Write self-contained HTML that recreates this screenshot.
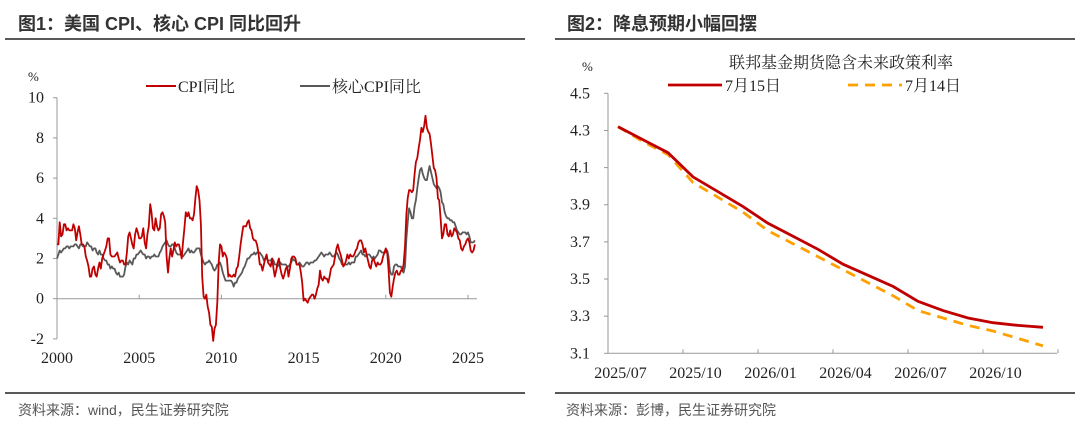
<!DOCTYPE html>
<html><head><meta charset="utf-8">
<style>
body{margin:0;width:1080px;height:426px;background:#fff;overflow:hidden;font-family:"Liberation Sans","Noto Sans CJK SC",sans-serif;}
.t{position:absolute;font-weight:bold;font-size:18px;color:#333;top:10px;}
.src{position:absolute;font-size:14px;color:#555;top:400px;}
.hr{position:absolute;height:2px;background:#595959;}
svg text{font-family:"Liberation Serif","Noto Serif CJK SC",serif;fill:#222;}
</style></head><body>
<div class="t" style="left:18px">图1：美国 CPI、核心 CPI 同比回升</div>
<div class="t" style="left:567px">图2：降息预期小幅回摆</div>
<div class="hr" style="left:5px;top:38px;width:520px"></div>
<div class="hr" style="left:555px;top:38px;width:520px"></div>
<div class="hr" style="left:5px;top:392px;width:520px"></div>
<div class="hr" style="left:555px;top:392px;width:520px"></div>
<div class="src" style="left:18px">资料来源：wind，民生证券研究院</div>
<div class="src" style="left:566px">资料来源：彭博，民生证券研究院</div>
<svg id="c" width="1080" height="426" style="position:absolute;left:0;top:0"></svg>
<script>
const cpiStartYear = 2000;
const cpi = [2.7,2.7,3.8,3.1,3.2,3.7,3.7,3.4,3.5,3.4,3.4,3.4,
3.7,3.5,2.9,3.3,3.6,3.2,2.7,2.7,2.6,2.1,1.9,1.6,
1.1,1.1,1.5,1.6,1.2,1.1,1.5,1.8,1.5,2.0,2.2,2.4,
2.6,3.0,3.0,2.2,2.1,2.1,2.1,2.2,2.3,2.0,1.8,1.9,
1.9,1.7,1.7,2.3,3.1,3.3,3.0,2.7,2.5,3.2,3.5,3.3,
3.0,3.0,3.1,3.5,2.8,2.5,3.2,3.6,4.7,4.3,3.5,3.4,
4.0,3.6,3.4,3.5,4.2,4.3,4.1,3.8,2.1,1.3,2.0,2.5,
2.1,2.4,2.8,2.6,2.7,2.7,2.4,2.0,2.8,3.5,4.3,4.1,
4.3,4.0,4.0,3.9,4.2,5.0,5.6,5.4,4.9,3.7,1.1,0.1,
0.0,0.2,-0.4,-0.7,-1.3,-1.4,-2.1,-1.5,-1.3,-0.2,1.8,2.7,
2.6,2.1,2.3,2.2,2.0,1.1,1.2,1.1,1.1,1.2,1.1,1.5,
1.6,2.1,2.7,3.2,3.6,3.6,3.6,3.8,3.9,3.5,3.4,3.0,
2.9,2.9,2.7,2.3,1.7,1.7,1.4,1.7,2.0,2.2,1.8,1.7,
1.6,2.0,1.5,1.1,1.4,1.8,2.0,1.5,1.2,1.0,1.2,1.5,
1.6,1.1,1.5,2.0,2.1,2.1,2.0,1.7,1.7,1.7,1.3,0.8,
-0.1,0.0,-0.1,-0.2,0.0,0.1,0.2,0.2,0.0,0.2,0.5,0.7,
1.4,1.0,0.9,1.1,1.0,1.0,0.8,1.1,1.5,1.6,1.7,2.1,
2.5,2.7,2.4,2.2,1.9,1.6,1.7,1.9,2.2,2.0,2.2,2.1,
2.1,2.2,2.4,2.5,2.8,2.9,2.9,2.7,2.3,2.5,2.2,1.9,
1.6,1.5,1.9,2.0,1.8,1.6,1.8,1.7,1.7,1.8,2.1,2.3,
2.5,2.3,1.5,0.3,0.1,0.6,1.0,1.3,1.4,1.2,1.2,1.4,
1.4,1.7,2.6,4.2,5.0,5.4,5.4,5.3,5.4,6.2,6.8,7.0,
7.5,7.9,8.5,8.3,8.6,9.1,8.5,8.3,8.2,7.7,7.1,6.5,
6.4,6.0,5.0,4.9,4.0,3.0,3.2,3.7,3.7,3.2,3.1,3.4,
3.1,3.2,3.5,3.4,3.3,3.0,2.9,2.5,2.4,2.6,2.7,2.9,
3.0,2.8,2.4,2.3,2.4,2.7];
const core = [2.0,2.2,2.4,2.3,2.4,2.5,2.5,2.6,2.6,2.5,2.6,2.6,
2.6,2.7,2.7,2.6,2.5,2.7,2.7,2.6,2.6,2.6,2.8,2.7,
2.6,2.6,2.4,2.5,2.5,2.3,2.2,2.4,2.2,2.2,2.0,1.9,
1.9,1.7,1.7,1.5,1.6,1.5,1.5,1.3,1.2,1.3,1.1,1.1,
1.1,1.2,1.6,1.8,1.7,1.9,1.8,1.7,2.0,2.0,2.2,2.2,
2.3,2.4,2.3,2.2,2.2,2.0,2.1,2.1,2.0,2.1,2.1,2.2,
2.1,2.1,2.1,2.3,2.4,2.6,2.7,2.8,2.9,2.7,2.6,2.6,
2.7,2.7,2.5,2.3,2.2,2.2,2.2,2.1,2.1,2.2,2.3,2.4,
2.5,2.3,2.4,2.3,2.3,2.4,2.5,2.5,2.5,2.2,2.0,1.8,
1.7,1.8,1.8,1.9,1.8,1.7,1.5,1.4,1.5,1.7,1.7,1.8,
1.6,1.3,1.1,0.9,0.9,0.9,0.9,0.9,0.8,0.6,0.8,0.8,
1.0,1.1,1.2,1.3,1.5,1.6,1.8,2.0,2.0,2.1,2.2,2.2,
2.3,2.2,2.3,2.3,2.3,2.2,2.1,1.9,2.0,2.0,1.9,1.9,
1.9,2.0,1.9,1.7,1.7,1.6,1.7,1.8,1.7,1.7,1.7,1.7,
1.6,1.6,1.7,1.8,2.0,1.9,1.9,1.7,1.7,1.8,1.7,1.6,
1.6,1.7,1.8,1.8,1.7,1.8,1.8,1.8,1.9,1.9,2.0,2.1,
2.2,2.3,2.2,2.1,2.2,2.2,2.2,2.3,2.2,2.1,2.1,2.2,
2.3,2.2,2.0,1.9,1.7,1.7,1.7,1.7,1.7,1.8,1.7,1.8,
1.8,1.8,2.1,2.1,2.2,2.3,2.4,2.2,2.2,2.1,2.2,2.2,
2.2,2.1,2.0,2.1,2.0,2.1,2.2,2.4,2.4,2.3,2.3,2.3,
2.3,2.4,2.1,1.4,1.2,1.2,1.6,1.7,1.7,1.6,1.6,1.6,
1.4,1.3,1.6,3.0,3.8,4.5,4.3,4.0,4.0,4.6,4.9,5.5,
6.0,6.4,6.5,6.2,6.0,5.9,5.9,6.3,6.6,6.3,6.0,5.7,
5.6,5.5,5.6,5.5,5.3,4.8,4.7,4.3,4.1,4.0,4.0,3.9,
3.9,3.8,3.8,3.6,3.4,3.3,3.2,3.2,3.3,3.3,3.3,3.2,
3.3,3.1,2.8,2.8,2.8,2.9];
const yTicks1 = [-2,0,2,4,6,8,10];
const xTicks1 = [2000,2005,2010,2015,2020,2025];

const months2 = ["2025/07","2025/08","2025/09","2025/10","2025/11","2025/12","2026/01","2026/02","2026/03","2026/04","2026/05","2026/06","2026/07","2026/08","2026/09","2026/10","2026/11","2026/12"];
const jul15 = [4.32,4.25,4.18,4.05,3.97,3.89,3.80,3.73,3.66,3.58,3.52,3.46,3.38,3.33,3.29,3.265,3.25,3.24];
const jul14 = [4.32,4.24,4.17,4.02,3.94,3.86,3.76,3.69,3.62,3.55,3.48,3.41,3.33,3.29,3.25,3.22,3.18,3.14];
const yTicks2 = [3.1,3.3,3.5,3.7,3.9,4.1,4.3,4.5];
const xLabels2 = ["2025/07","2025/10","2026/01","2026/04","2026/07","2026/10"];

const svg = document.getElementById('c');
const NS = 'http://www.w3.org/2000/svg';
function mk(tag, attrs, parent){const e=document.createElementNS(NS,tag);for(const k in attrs)e.setAttribute(k,attrs[k]);(parent||svg).appendChild(e);return e;}
function txt(x,y,s,anchor,size){const e=mk('text',{x:x,y:y,'text-anchor':anchor||'start','font-size':size||16});e.textContent=s;return e;}

// ---- chart 1
const X1 = t => 57 + (t-2000)*16.44;
const Y1 = v => 298.7 - v*20.1;
let e;
e = mk('line',{x1:57,y1:Y1(10),x2:57,y2:Y1(-2),stroke:'#999','stroke-width':1});


e = mk('line',{x1:57,y1:Y1(0),x2:477,y2:Y1(0),stroke:'#999','stroke-width':1});


yTicks1.forEach(v=>{
  mk('line',{x1:53,y1:Y1(v),x2:57,y2:Y1(v),stroke:'#999'});
  e = txt(44,Y1(v)+5,String(v),'end');
  
  
});
xTicks1.forEach(t=>{
  mk('line',{x1:X1(t),y1:Y1(0),x2:X1(t),y2:Y1(0)-4,stroke:'#999'});
  e = txt(X1(t),363,String(t),'middle');
  
  
});
e = txt(28,81,'%','start',13);


function series1(arr,color,name){
  const d = arr.map((v,i)=>(i?'L':'M')+X1(cpiStartYear+i/12).toFixed(1)+','+Y1(v).toFixed(1)).join('');
  const p = mk('path',{d:d,fill:'none',stroke:color,'stroke-width':1.8,'stroke-linejoin':'round'});
  
  
}
series1(core,'#595959','core-cpi-line');
series1(cpi,'#c00000','cpi-line');
mk('line',{x1:146,y1:86,x2:176,y2:86,stroke:'#c00000','stroke-width':2});
e = txt(178,92,'CPI同比');


mk('line',{x1:300,y1:86,x2:330,y2:86,stroke:'#595959','stroke-width':2});
e = txt(332,92,'核心CPI同比');



// ---- chart 2
const X2 = i => 618 + i*25;
const Y2 = v => 353.3 - (v-3.1)*185.7;
e = mk('line',{x1:608,y1:Y2(4.5),x2:608,y2:Y2(3.1),stroke:'#999'});


e = mk('line',{x1:608,y1:Y2(3.1),x2:1057,y2:Y2(3.1),stroke:'#999'});


yTicks2.forEach(v=>{
  mk('line',{x1:604,y1:Y2(v),x2:608,y2:Y2(v),stroke:'#999'});
  e = txt(590,Y2(v)+5,v.toFixed(1),'end');
  
  
});
xLabels2.forEach((s,k)=>{
  const i = months2.indexOf(s);
  const tx = 608 + (i+3)*25;
  mk('line',{x1:tx,y1:Y2(3.1),x2:tx,y2:Y2(3.1)-4,stroke:'#999'});
  e = txt(608+i*25+12.5,378,s,'middle');
  
  
});
e = txt(582,71,'%','start',13);


e = txt(841,68,'联邦基金期货隐含未来政策利率','middle');


function series2(arr,color,name,dash){
  const d = arr.map((v,i)=>(i?'L':'M')+X2(i).toFixed(1)+','+Y2(v).toFixed(1)).join('');
  const a = {d:d,fill:'none',stroke:color,'stroke-width':2.8};
  if(dash) a['stroke-dasharray']=dash;
  const p = mk('path',a);
  
  
}
series2(jul14,'#ffa000','jul14-line','10,7');
series2(jul15,'#c00000','jul15-line');
mk('line',{x1:668,y1:85,x2:722,y2:85,stroke:'#c00000','stroke-width':2.8});
e = txt(725,91,'7月15日');


mk('line',{x1:848,y1:85,x2:902,y2:85,stroke:'#ffa000','stroke-width':2.8,'stroke-dasharray':'10,7'});
e = txt(905,91,'7月14日');


</script>
</body></html>
